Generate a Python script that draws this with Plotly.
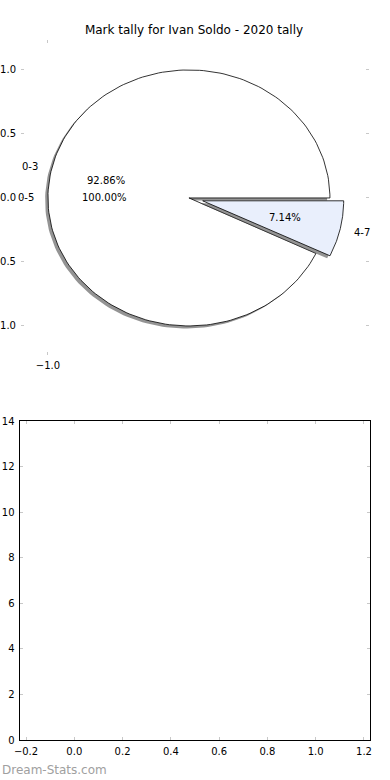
import numpy as np
import plotly.graph_objects as go

# ---------------- data ----------------
title_text = "Mark tally for Ivan Soldo - 2020 tally"
labels_main = ["0-3", "4-7"]
values_main = [13, 1]
explode_main = [0.0, 0.1]
colors_main = ["#ffffff", "#e9effc"]

labels_total = ["0-5"]
values_total = [14]

pie_yticks = [-1.0, -0.5, 0.0, 0.5, 1.0]
pie_xticks = [-1.0]

bottom_xticks = [-0.2, 0.0, 0.2, 0.4, 0.6, 0.8, 1.0, 1.2]
bottom_yticks = [0, 2, 4, 6, 8, 10, 12, 14]
watermark = "Dream-Stats.com"

# ---------------- helpers ----------------
W, H = 390, 780


def fmt(v):
    s = f"{v:.1f}"
    return s.replace("-", "\u2212")


def wedge_xy(cx, cy, t1, t2, r=1.0, n=200):
    th = np.radians(np.linspace(t1, t2, n))
    xs = np.concatenate([[cx], cx + r * np.cos(th), [cx]])
    ys = np.concatenate([[cy], cy + r * np.sin(th), [cy]])
    return xs, ys


fig = go.Figure()
annotations = []

total = sum(values_main)
cum = np.concatenate([[0], np.cumsum(values_main)])
wedges = []
for i, (lab, v) in enumerate(zip(labels_main, values_main)):
    t1 = 360.0 * cum[i] / total
    t2 = 360.0 * cum[i + 1] / total
    mid = np.radians((t1 + t2) / 2)
    cx = explode_main[i] * np.cos(mid)
    cy = explode_main[i] * np.sin(mid)
    wedges.append((lab, v, t1, t2, mid, cx, cy, colors_main[i]))

# shadows + wedges
for lab, v, t1, t2, mid, cx, cy, col in wedges:
    xs, ys = wedge_xy(cx - 0.02, cy - 0.02, t1, t2)
    fig.add_trace(go.Scatter(x=xs, y=ys, mode="lines", fill="toself",
                             fillcolor="rgba(60,60,60,0.55)",
                             line=dict(width=0), hoverinfo="skip",
                             showlegend=False, xaxis="x", yaxis="y"))
    xs, ys = wedge_xy(cx, cy, t1, t2)
    fig.add_trace(go.Scatter(x=xs, y=ys, mode="lines", fill="toself",
                             fillcolor=col, line=dict(color="black", width=0.8),
                             hoverinfo="skip", showlegend=False,
                             xaxis="x", yaxis="y"))

lab_font = dict(family="DejaVu Sans", size=10, color="black")

for lab, v, t1, t2, mid, cx, cy, col in wedges:
    lx = cx + 1.1 * np.cos(mid)
    ly = cy + 1.1 * np.sin(mid)
    annotations.append(dict(x=lx, y=ly, xref="x", yref="y", text=lab,
                            showarrow=False,
                            xanchor="right" if lx < 0 else "left",
                            xshift=2 if lx < 0 else -2,
                            yanchor="middle", font=lab_font))
    px = cx + 0.6 * np.cos(mid)
    py = cy + 0.6 * np.sin(mid)
    annotations.append(dict(x=px, y=py, xref="x", yref="y",
                            text=f"{100.0 * v / total:.2f}%", showarrow=False,
                            xanchor="center", yanchor="middle", font=lab_font))

# second (total) pie labels
tot2 = sum(values_total)
cum2 = np.concatenate([[0], np.cumsum(values_total)])
for i, (lab, v) in enumerate(zip(labels_total, values_total)):
    t1 = 360.0 * cum2[i] / tot2
    t2 = 360.0 * cum2[i + 1] / tot2
    mid = np.radians((t1 + t2) / 2)
    lx, ly = 1.1 * np.cos(mid), 1.1 * np.sin(mid)
    annotations.append(dict(x=lx, y=ly, xref="x", yref="y", text=lab,
                            showarrow=False,
                            xanchor="right" if lx < 0 else "left",
                            xshift=2 if lx < 0 else -2,
                            yanchor="middle", font=lab_font))
    annotations.append(dict(x=0.6 * np.cos(mid), y=0.6 * np.sin(mid),
                            xref="x", yref="y",
                            text=f"{100.0 * v / tot2:.2f}%", showarrow=False,
                            xanchor="center", yanchor="middle", font=lab_font))

# empty bottom axes
fig.add_trace(go.Scatter(x=[], y=[], mode="markers", showlegend=False,
                         xaxis="x2", yaxis="y2"))

annotations.append(dict(x=0.0, y=(H - 770) / H, xref="paper", yref="paper",
                        text=watermark, showarrow=False, xanchor="left",
                        yanchor="middle",
                        font=dict(family="DejaVu Sans", size=12, color="#a0a0a0")))

tick_font = dict(family="DejaVu Sans", size=10, color="black")
tickgray = "#c8c8c8"

fig.update_layout(
    width=W, height=H, autosize=False,
    margin=dict(l=0, r=0, t=0, b=0, autoexpand=False),
    paper_bgcolor="white", plot_bgcolor="rgba(0,0,0,0)",
    title=dict(text=title_text, x=194 / W, xanchor="center",
               y=(H - 30) / H, yanchor="middle", automargin=False,
               font=dict(family="DejaVu Sans", size=12, color="black")),
    annotations=annotations,
    xaxis=dict(domain=[21 / W, 369 / W], range=[-1.191, 1.277],
               showgrid=False, zeroline=False, showline=False, automargin=False,
               tickvals=pie_xticks, ticktext=[fmt(v) for v in pie_xticks],
               ticks="inside", ticklen=3, tickwidth=1, tickcolor=tickgray,
               ticklabelstandoff=3,
               mirror="ticks", tickfont=tick_font, anchor="y", fixedrange=True),
    yaxis=dict(domain=[(H - 355) / H, (H - 40) / H], range=[-1.227, 1.234],
               showgrid=False, zeroline=False, showline=False, automargin=False,
               tickvals=pie_yticks, ticktext=[fmt(v) for v in pie_yticks],
               ticks="inside", ticklen=3, tickwidth=1, tickcolor=tickgray,
               ticklabelstandoff=4,
               mirror="ticks", tickfont=tick_font, anchor="x", fixedrange=True),
    xaxis2=dict(domain=[19.5 / W, 370 / W], range=[-0.227, 1.225],
                showgrid=False, zeroline=False, showline=True, automargin=False,
                linecolor="black", linewidth=1, mirror="ticks",
                tickvals=bottom_xticks, ticktext=[fmt(v) for v in bottom_xticks],
                ticks="inside", ticklen=3, tickwidth=1, tickcolor=tickgray,
                ticklabelstandoff=2,
                tickfont=tick_font, anchor="y2", fixedrange=True),
    yaxis2=dict(domain=[(H - 740) / H, (H - 421) / H], range=[0, 14],
                showgrid=False, zeroline=False, showline=True, automargin=False,
                linecolor="black", linewidth=1, mirror="ticks",
                tickvals=bottom_yticks, ticktext=[str(v) for v in bottom_yticks],
                ticks="inside", ticklen=3, tickwidth=1, tickcolor=tickgray,
                ticklabelstandoff=2,
                tickfont=tick_font, anchor="x2", fixedrange=True),
)

fig.write_html("out.html")
